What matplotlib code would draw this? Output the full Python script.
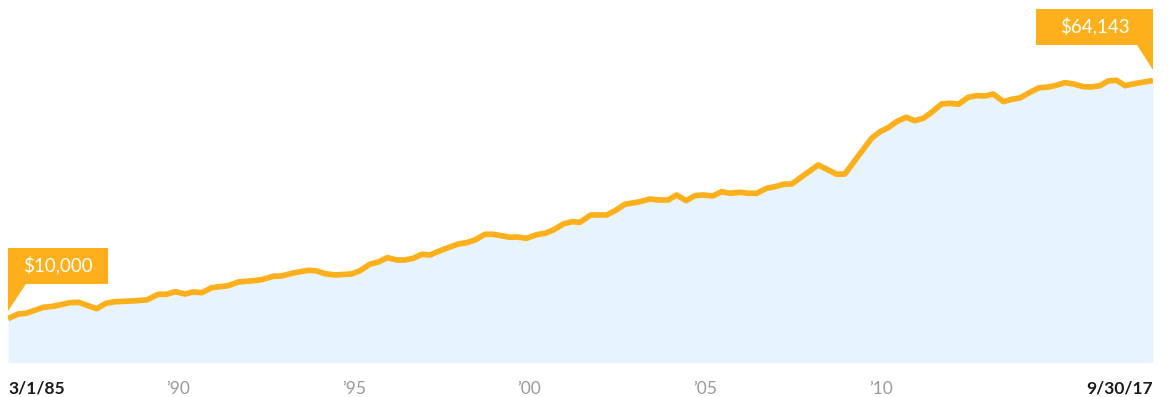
import matplotlib
matplotlib.use("Agg")
import matplotlib.pyplot as plt
from matplotlib.patches import Polygon
from matplotlib.transforms import Affine2D, ScaledTranslation

# growth of $10,000, 3/1/85 -> 9/30/17
dates = [1985.164, 1985.46, 1985.68, 1986.17, 1986.45, 1986.93, 1987.17, 1987.69,
         1987.95, 1988.21, 1988.68, 1989.11, 1989.44, 1989.68, 1989.92, 1990.20,
         1990.44, 1990.68, 1990.96, 1991.43, 1991.72, 1992.15, 1992.38, 1992.71,
         1992.95, 1993.24, 1993.71, 1993.95, 1994.18, 1994.47, 1994.94, 1995.18,
         1995.46, 1995.70, 1995.96, 1996.23, 1996.46, 1996.70, 1996.94, 1997.17,
         1997.51, 1997.98, 1998.22, 1998.45, 1998.74, 1998.97, 1999.45, 1999.64,
         1999.92, 2000.21, 2000.45, 2000.68, 2000.97, 2001.21, 2001.44, 2001.75,
         2002.20, 2002.44, 2002.72, 2003.15, 2003.43, 2003.67, 2003.95, 2004.19,
         2004.46, 2004.71, 2004.95, 2005.22, 2005.47, 2005.71, 2005.99, 2006.23,
         2006.47, 2006.75, 2006.99, 2007.23, 2007.47, 2007.85, 2008.22, 2008.75,
         2008.98, 2009.36, 2009.74, 2009.98, 2010.21, 2010.45, 2010.72, 2010.97,
         2011.21, 2011.45, 2011.73, 2011.97, 2012.21, 2012.49, 2012.73, 2012.97,
         2013.20, 2013.49, 2013.73, 2013.96, 2014.25, 2014.51, 2014.72, 2014.96,
         2015.24, 2015.48, 2015.76, 2016.00, 2016.24, 2016.47, 2016.71, 2016.95,
         2017.28, 2017.747]
values = [10000, 11034, 11193, 12558, 12786, 13605, 13696, 12240,
          13468, 13832, 13991, 14219, 15516, 15516, 16107, 15584,
          16039, 15880, 17017, 17472, 18314, 18610, 18837, 19611,
          19679, 20293, 20976, 20816, 20202, 19906, 20134, 20885,
          22341, 22864, 23842, 23319, 23319, 23706, 24616, 24456,
          25594, 26959, 27255, 27869, 29166, 29166, 28483, 28551,
          28256, 29075, 29393, 30144, 31509, 32032, 31896, 33556,
          33556, 34535, 35991, 36582, 37196, 36969, 36969, 38106,
          36810, 37947, 38106, 37879, 38857, 38493, 38721, 38493,
          38493, 39631, 39995, 40541, 40609, 42816, 44931, 42816,
          42884, 46979, 51006, 52507, 53417, 54782, 55783, 55010,
          55556, 56921, 58809, 58968, 58741, 60333, 60697, 60629,
          61084, 59332, 59878, 60174, 61471, 62517, 62608, 62972,
          63655, 63359, 62745, 62676, 62972, 64041, 64201, 62972,
          63518, 64143]

tick_pos = [1985.164, 1990, 1995, 2000, 2005, 2010, 2017.747]
tick_labels = ["3/1/85", "\u201990", "\u201995", "\u201900", "\u201905", "\u201910", "9/30/17"]

start_label = "$10,000"
end_label = "$64,143"

orange = "#FDB01B"
fill_blue = "#E8F4FD"

plt.rcParams["font.family"] = ["Lato", "DejaVu Sans"]

fig = plt.figure(figsize=(11.68, 3.97), dpi=100)
ax = fig.add_axes([8 / 1168, 34.5 / 397, 1145 / 1168, 362.5 / 397])

ax.fill_between(dates, values, 0, color=fill_blue, lw=0)
ax.plot(dates, values, color=orange, lw=4.1, solid_joinstyle="round", solid_capstyle="butt")

ax.set_xlim(dates[0], dates[-1])
ax.set_ylim(0, 82460)
ax.set_yticks([])
for s in ax.spines.values():
    s.set_visible(False)

ax.set_xticks(tick_pos)
ax.set_xticklabels(tick_labels, fontsize=12.5, color="#9a9a9a")
ax.tick_params(axis="x", length=0, pad=13)
lbls = ax.get_xticklabels()
for i in (0, -1):
    lbls[i].set_color("#1a1a1a")
    lbls[i].set_fontweight("bold")
lbls[0].set_ha("left")
lbls[-1].set_ha("right")


def callout(x, y, pts, text, tx, ty):
    # shape given in pixels relative to the data point
    tr = Affine2D() + ScaledTranslation(x, y, ax.transData)
    ax.add_patch(Polygon(pts, closed=True, facecolor=orange, edgecolor="none",
                         transform=tr, clip_on=False, zorder=5))
    ax.text(tx, ty, text, transform=tr, color="white", fontsize=13.5,
            ha="center", va="center", zorder=6, clip_on=False)


callout(dates[0], values[0],
        [(0, 8), (0, 70.5), (100, 70.5), (100, 35), (18, 35)],
        start_label, 50, 53)
callout(dates[-1], values[-1],
        [(0, 10.5), (0, 71.5), (-117, 71.5), (-117, 36), (-16, 36)],
        end_label, -58.5, 54)

fig.savefig("out.png", dpi=100)
